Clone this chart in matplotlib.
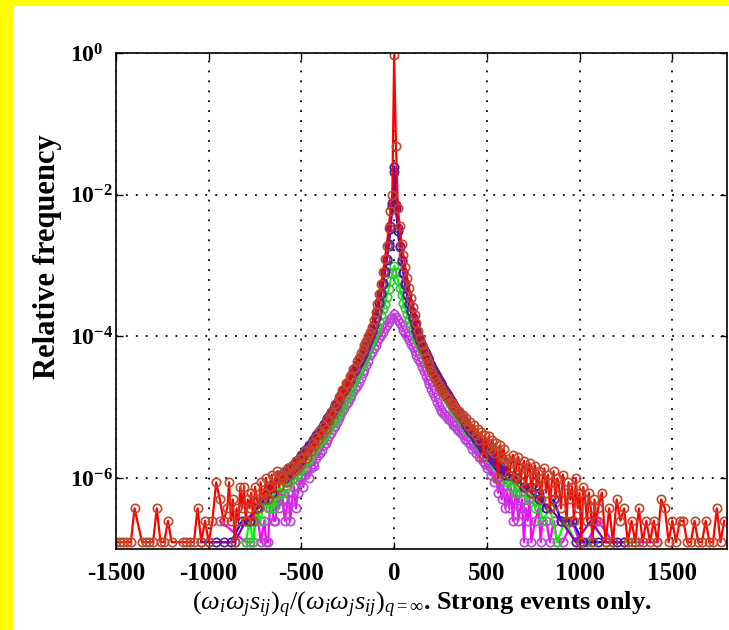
import matplotlib

matplotlib.use("Agg")

import matplotlib.pyplot as plt
from matplotlib.patches import Rectangle
from matplotlib.ticker import NullLocator

plt.rcParams["font.family"] = ["Liberation Serif", "DejaVu Serif"]
plt.rcParams["mathtext.fontset"] = "custom"
plt.rcParams["mathtext.rm"] = "Liberation Serif"
plt.rcParams["mathtext.it"] = "Liberation Serif:italic"
plt.rcParams["mathtext.bf"] = "Liberation Serif:bold"

# relative frequency of one event in the histograms
UNIT = 1.25e-7

# histogram bins in the core (-600 .. 600, width 10)
CORE_X = list(range(-600, 601, 10))

RED_CORE = [
    1.0e-6, 1.25e-6, 8.75e-7, 1.4e-6, 1.1e-6, 1.5e-6, 1.25e-6, 1.75e-6, 1.4e-6, 1.9e-6,
    1.6e-6, 2.0e-6, 2.4e-6, 1.9e-6, 2.6e-6, 2.4e-6, 3.1e-6, 2.8e-6, 3.8e-6, 3.4e-6,
    4.6e-6, 4.2e-6, 5.5e-6, 5.0e-6, 6.9e-6, 6.4e-6, 8.6e-6, 8.0e-6, 1.1e-5, 1.0e-5,
    1.4e-5, 1.3e-5, 1.75e-5, 1.65e-5, 2.2e-5, 2.1e-5, 2.8e-5, 2.7e-5, 3.5e-5, 3.6e-5,
    4.5e-5, 4.9e-5, 5.8e-5, 6.4e-5, 7.6e-5, 8.6e-5, 1.0e-4, 1.15e-4, 1.35e-4, 1.7e-4,
    2.2e-4, 2.9e-4, 4.0e-4, 5.5e-4, 8.0e-4, 1.25e-3, 1.9e-3, 3.4e-3, 5.8e-3, 1.0e-2,
    0.93,
    4.8e-2, 6.5e-3, 3.6e-3, 2.0e-3, 1.4e-3, 9.5e-4, 6.6e-4, 4.8e-4, 3.5e-4, 2.6e-4,
    2.0e-4, 1.55e-4, 1.2e-4, 9.5e-5, 7.6e-5, 6.2e-5, 5.2e-5, 4.4e-5, 3.8e-5, 3.3e-5,
    2.9e-5, 2.55e-5, 2.3e-5, 2.05e-5, 1.9e-5, 1.7e-5, 1.6e-5, 1.4e-5, 1.35e-5, 1.2e-5,
    1.15e-5, 1.0e-5, 9.8e-6, 8.6e-6, 8.9e-6, 7.4e-6, 7.9e-6, 6.4e-6, 7.0e-6, 5.5e-6,
    6.2e-6, 4.6e-6, 5.6e-6, 4.0e-6, 5.0e-6, 3.5e-6, 4.5e-6, 2.0e-6, 4.1e-6, 2.75e-6,
    3.9e-6, 2.5e-6, 3.5e-6, 2.25e-6, 3.1e-6, 1.0e-6, 2.9e-6, 1.9e-6, 2.6e-6, 1.75e-6,
]
MAGENTA_CORE = [
    5.0e-7, 2.5e-7, 3.75e-7, 6.25e-7, 2.5e-7, 5.0e-7, 7.5e-7, 3.75e-7, 6.25e-7, 8.75e-7,
    1.0e-6, 7.5e-7, 1.1e-6, 1.25e-6, 1.0e-6, 1.4e-6, 1.6e-6, 1.5e-6, 1.9e-6, 2.1e-6,
    2.25e-6, 2.5e-6, 2.9e-6, 3.1e-6, 3.5e-6, 3.9e-6, 4.3e-6, 5.0e-6, 5.5e-6, 6.2e-6,
    7.0e-6, 7.8e-6, 8.9e-6, 9.7e-6, 1.1e-5, 1.2e-5, 1.35e-5, 1.5e-5, 1.7e-5, 1.85e-5,
    2.0e-5, 2.3e-5, 2.6e-5, 3.0e-5, 3.4e-5, 3.9e-5, 4.5e-5, 5.4e-5, 6.0e-5, 6.9e-5,
    7.6e-5, 8.5e-5, 9.6e-5, 1.05e-4, 1.15e-4, 1.3e-4, 1.45e-4, 1.6e-4, 1.75e-4, 1.9e-4,
    2.05e-4,
    1.85e-4, 1.7e-4, 1.55e-4, 1.4e-4, 1.25e-4, 1.12e-4, 1.0e-4, 9.0e-5, 7.9e-5, 7.1e-5,
    6.3e-5, 5.5e-5, 4.8e-5, 4.3e-5, 3.7e-5, 3.2e-5, 2.8e-5, 2.4e-5, 2.1e-5, 1.8e-5,
    1.6e-5, 1.4e-5, 1.2e-5, 1.05e-5, 9.3e-6, 8.6e-6, 8.0e-6, 7.5e-6, 6.9e-6, 6.6e-6,
    6.1e-6, 5.6e-6, 5.4e-6, 4.9e-6, 4.6e-6, 4.3e-6, 4.0e-6, 3.6e-6, 3.5e-6, 3.2e-6,
    3.0e-6, 2.6e-6, 2.75e-6, 2.25e-6, 2.4e-6, 2.0e-6, 1.9e-6, 1.75e-6, 1.6e-6, 1.4e-6,
    1.5e-6, 1.1e-6, 1.25e-6, 8.75e-7, 1.0e-6, 6.25e-7, 8.75e-7, 5.0e-7, 7.5e-7, 3.75e-7,
]
GREEN_CORE = [
    6.25e-7, 8.75e-7, 7.5e-7, 1.0e-6, 8.75e-7, 1.1e-6, 1.0e-6, 1.25e-6, 1.1e-6, 1.4e-6,
    1.5e-6, 1.4e-6, 1.75e-6, 1.9e-6, 1.8e-6, 2.1e-6, 2.4e-6, 2.5e-6, 2.8e-6, 3.0e-6,
    3.3e-6, 3.6e-6, 3.9e-6, 4.3e-6, 4.7e-6, 5.1e-6, 5.6e-6, 6.2e-6, 6.9e-6, 7.6e-6,
    8.5e-6, 9.5e-6, 1.06e-5, 1.2e-5, 1.35e-5, 1.5e-5, 1.7e-5, 1.9e-5, 2.2e-5, 2.5e-5,
    2.8e-5, 3.2e-5, 3.7e-5, 4.2e-5, 4.9e-5, 5.7e-5, 6.6e-5, 7.7e-5, 9.0e-5, 1.05e-4,
    1.2e-4, 1.4e-4, 1.65e-4, 2.0e-4, 2.4e-4, 2.9e-4, 3.6e-4, 4.6e-4, 6.0e-4, 7.8e-4,
    1.0e-3,
    8.0e-4, 6.2e-4, 4.8e-4, 3.8e-4, 3.0e-4, 2.5e-4, 2.1e-4, 1.75e-4, 1.5e-4, 1.3e-4,
    1.12e-4, 9.6e-5, 8.3e-5, 7.3e-5, 6.4e-5, 5.6e-5, 4.9e-5, 4.3e-5, 3.8e-5, 3.4e-5,
    3.0e-5, 2.7e-5, 2.4e-5, 2.15e-5, 1.9e-5, 1.7e-5, 1.55e-5, 1.4e-5, 1.25e-5, 1.1e-5,
    1.05e-5, 9.2e-6, 8.8e-6, 7.8e-6, 7.6e-6, 6.6e-6, 6.5e-6, 5.6e-6, 5.5e-6, 4.7e-6,
    4.8e-6, 4.0e-6, 4.1e-6, 3.4e-6, 3.6e-6, 2.9e-6, 3.1e-6, 2.5e-6, 2.75e-6, 2.1e-6,
    2.4e-6, 1.9e-6, 2.0e-6, 1.6e-6, 1.75e-6, 1.4e-6, 1.5e-6, 1.25e-6, 1.25e-6, 1.0e-6,
]
BLUE_CORE = [
    1.0e-6, 1.25e-6, 1.1e-6, 1.4e-6, 1.25e-6, 1.5e-6, 1.4e-6, 1.75e-6, 1.6e-6, 1.9e-6,
    2.0e-6, 2.1e-6, 2.4e-6, 2.5e-6, 2.8e-6, 3.0e-6, 3.3e-6, 3.6e-6, 3.9e-6, 4.3e-6,
    4.7e-6, 5.1e-6, 5.7e-6, 6.2e-6, 6.9e-6, 7.6e-6, 8.4e-6, 9.3e-6, 1.03e-5, 1.15e-5,
    1.28e-5, 1.42e-5, 1.58e-5, 1.76e-5, 1.96e-5, 2.2e-5, 2.45e-5, 2.75e-5, 3.1e-5, 3.5e-5,
    3.9e-5, 4.4e-5, 5.0e-5, 5.7e-5, 6.5e-5, 7.5e-5, 8.7e-5, 1.02e-4, 1.2e-4, 1.45e-4,
    1.8e-4, 2.3e-4, 3.0e-4, 4.0e-4, 5.5e-4, 8.0e-4, 1.2e-3, 1.9e-3, 3.3e-3, 7.0e-3,
    2.5e-2,
    6.5e-3, 3.1e-3, 1.8e-3, 1.15e-3, 7.8e-4, 5.4e-4, 3.9e-4, 2.9e-4, 2.25e-4, 1.8e-4,
    1.45e-4, 1.2e-4, 1.0e-4, 8.6e-5, 7.4e-5, 6.4e-5, 5.6e-5, 4.9e-5, 4.3e-5, 3.8e-5,
    3.4e-5, 3.0e-5, 2.7e-5, 2.4e-5, 2.15e-5, 1.95e-5, 1.75e-5, 1.6e-5, 1.45e-5, 1.3e-5,
    1.2e-5, 1.1e-5, 1.0e-5, 9.0e-6, 8.2e-6, 7.4e-6, 6.8e-6, 6.2e-6, 5.6e-6, 5.1e-6,
    4.7e-6, 4.3e-6, 4.0e-6, 3.6e-6, 3.4e-6, 3.1e-6, 2.9e-6, 2.6e-6, 2.5e-6, 2.3e-6,
    2.2e-6, 2.0e-6, 1.9e-6, 1.75e-6, 1.65e-6, 1.5e-6, 1.4e-6, 1.3e-6, 1.25e-6, 1.1e-6,
]
PURPLE_CORE = [
    1.1e-6, 1.0e-6, 1.25e-6, 1.2e-6, 1.4e-6, 1.35e-6, 1.6e-6, 1.5e-6, 1.8e-6, 1.75e-6,
    2.1e-6, 2.0e-6, 2.5e-6, 2.4e-6, 2.9e-6, 2.8e-6, 3.4e-6, 3.4e-6, 4.0e-6, 4.1e-6,
    4.8e-6, 4.9e-6, 5.8e-6, 6.0e-6, 7.0e-6, 7.3e-6, 8.6e-6, 9.0e-6, 1.05e-5, 1.1e-5,
    1.3e-5, 1.38e-5, 1.6e-5, 1.72e-5, 2.0e-5, 2.15e-5, 2.5e-5, 2.7e-5, 3.15e-5, 3.4e-5,
    4.0e-5, 4.3e-5, 5.1e-5, 5.6e-5, 6.6e-5, 7.4e-5, 8.9e-5, 1.0e-4, 1.22e-4, 1.45e-4,
    1.85e-4, 2.3e-4, 3.1e-4, 4.1e-4, 5.7e-4, 8.3e-4, 1.25e-3, 2.0e-3, 3.6e-3, 7.6e-3,
    2.1e-2,
    7.2e-3, 3.4e-3, 1.9e-3, 1.2e-3, 8.2e-4, 5.6e-4, 4.0e-4, 3.0e-4, 2.3e-4, 1.85e-4,
    1.5e-4, 1.22e-4, 1.03e-4, 8.7e-5, 7.6e-5, 6.5e-5, 5.8e-5, 5.0e-5, 4.4e-5, 3.9e-5,
    3.5e-5, 3.05e-5, 2.8e-5, 2.45e-5, 2.2e-5, 2.0e-5, 1.8e-5, 1.62e-5, 1.48e-5, 1.33e-5,
    1.2e-5, 1.08e-5, 9.8e-6, 8.9e-6, 8.1e-6, 7.5e-6, 6.8e-6, 6.3e-6, 5.7e-6, 5.3e-6,
    4.8e-6, 4.5e-6, 4.1e-6, 3.8e-6, 3.4e-6, 3.2e-6, 2.9e-6, 2.75e-6, 2.5e-6, 2.4e-6,
    2.2e-6, 2.1e-6, 1.9e-6, 1.8e-6, 1.65e-6, 1.6e-6, 1.5e-6, 1.4e-6, 1.25e-6, 1.25e-6,
]

# tails: bin centre and number of events (empty bins left out)
RED_LEFT_X = [-1500, -1480, -1460, -1440, -1420, -1400, -1360, -1340, -1320, -1300,
              -1280, -1260, -1240, -1220, -1200, -1140, -1120, -1100, -1080, -1060,
              -1040, -1020, -1000, -980, -960, -940, -920] + list(range(-900, -609, 10))
RED_LEFT_N = [1, 1, 1, 1, 1, 3, 1, 1, 1, 1,
              3, 1, 1, 2, 1, 1, 1, 1, 1, 3,
              1, 2, 1, 2, 7, 4, 2,
              3, 7, 2, 4, 1, 3, 2, 6, 3, 6,
              2, 4, 3, 5, 2, 6, 4, 3, 7, 4,
              5, 8, 4, 6, 9, 5, 8, 10, 6, 9]
RED_RIGHT_X = list(range(610, 1101, 10)) + list(range(1120, 1781, 20))
RED_RIGHT_N = [15, 9, 13, 17, 8, 12, 16, 7, 11, 14,
               6, 10, 13, 5, 9, 12, 6, 10, 4, 8,
               11, 5, 9, 3, 7, 10, 4, 8, 6, 3,
               9, 5, 2, 7, 4, 6, 2, 8, 3, 5,
               1, 6, 4, 2, 5, 3, 1, 4, 2, 3,
               5, 1, 3, 1, 4, 2, 3, 1, 2, 1,
               3, 1, 2, 1, 2, 1, 4, 3, 1, 2,
               1, 2, 2, 1, 1, 2, 1, 1, 2, 1,
               1, 3, 1, 2]

MAGENTA_LEFT_X = [-940, -800, -780, -760, -750, -740, -720, -700, -690, -680, -670, -660,
                  -650, -640, -630, -620, -610]
MAGENTA_LEFT_N = [2, 1, 1, 1, 2, 3, 1, 2, 1, 1, 3, 4, 2, 2, 4, 3, 5]
MAGENTA_RIGHT_X = [610, 620, 630, 640, 650, 660, 670, 680, 690, 700, 710, 720, 730, 740,
                   760, 780, 790, 800, 820, 840, 860, 880, 910, 960, 1000, 1040, 1100,
                   1180, 1240, 1300, 1320, 1420]
MAGENTA_RIGHT_N = [5, 3, 6, 2, 4, 5, 2, 3, 4, 1, 3, 2, 4, 1,
                   2, 3, 1, 2, 2, 1, 2, 1, 1, 2, 1, 1, 2,
                   1, 1, 1, 1, 1]

GREEN_LEFT_X = [-800, -780, -760, -740, -720, -700, -680, -670, -660, -650, -640, -630, -620, -610]
GREEN_LEFT_N = [1, 2, 1, 3, 2, 4, 3, 5, 4, 3, 6, 4, 6, 5]
GREEN_RIGHT_X = [610, 620, 630, 640, 650, 660, 670, 680, 700, 720, 740, 760, 780, 800, 840,
                 880, 920, 980, 1060, 1180, 1280]
GREEN_RIGHT_N = [7, 9, 6, 8, 5, 9, 6, 5, 6, 4, 5, 3, 4, 2, 3, 1, 2, 1, 1, 1, 1]

BLUE_LEFT_X = [-1040, -960, -880, -820, -780, -740, -700, -660, -620]
BLUE_LEFT_N = [1, 1, 1, 2, 2, 3, 4, 5, 8]
BLUE_RIGHT_X = [620, 660, 700, 740, 780, 820, 860, 900, 960, 1020, 1100, 1200]
BLUE_RIGHT_N = [9, 8, 6, 6, 5, 3, 4, 2, 2, 1, 1, 1]

PURPLE_LEFT_X = [-1000, -920, -860, -800, -740, -700, -660, -620]
PURPLE_LEFT_N = [1, 1, 1, 2, 3, 5, 6, 9]
PURPLE_RIGHT_X = [620, 660, 700, 740, 780, 840, 900, 980, 1060, 1140, 1240]
PURPLE_RIGHT_N = [9, 8, 6, 5, 4, 3, 2, 1, 2, 1, 1]

X_TICKS = [-1500, -1000, -500, 0, 500, 1000, 1500]
Y_TICKS = [1e-6, 1e-4, 1e-2, 1e0]
Y_TICK_LABELS = [r"$\mathbf{10^{-6}}$", r"$\mathbf{10^{-4}}$", r"$\mathbf{10^{-2}}$", r"$\mathbf{10^{0}}$"]


def series(left_x, left_n, core, right_x, right_n):
    assert len(core) == len(CORE_X)
    assert len(left_x) == len(left_n) and len(right_x) == len(right_n)
    xs = list(left_x) + CORE_X + list(right_x)
    ys = [n * UNIT for n in left_n] + list(core) + [n * UNIT for n in right_n]
    return xs, ys


def main() -> None:
    fig = plt.figure(figsize=(7.29, 6.30), dpi=100)
    fig.patch.set_facecolor("#ffff00")
    fig.add_artist(Rectangle((13 / 729, 0), 1, 1 - 6 / 630, transform=fig.transFigure,
                             facecolor="white", edgecolor="none", zorder=-5))
    ax = fig.add_axes([116 / 729, 1 - 549 / 630, 611 / 729, 496 / 630])

    runs = [
        (MAGENTA_LEFT_X, MAGENTA_LEFT_N, MAGENTA_CORE, MAGENTA_RIGHT_X, MAGENTA_RIGHT_N, "#ff00ff", "#b844d8"),
        (GREEN_LEFT_X, GREEN_LEFT_N, GREEN_CORE, GREEN_RIGHT_X, GREEN_RIGHT_N, "#00ff00", "#30c830"),
        (BLUE_LEFT_X, BLUE_LEFT_N, BLUE_CORE, BLUE_RIGHT_X, BLUE_RIGHT_N, "#0000ff", "#1a1ab4"),
        (PURPLE_LEFT_X, PURPLE_LEFT_N, PURPLE_CORE, PURPLE_RIGHT_X, PURPLE_RIGHT_N, "#8000a0", "#6a1a8a"),
        (RED_LEFT_X, RED_LEFT_N, RED_CORE, RED_RIGHT_X, RED_RIGHT_N, "#ff0000", "#c0482a"),
    ]
    for lx, ln, core, rx, rn, line_c, mark_c in runs:
        xs, ys = series(lx, ln, core, rx, rn)
        ax.semilogy(xs, ys, "-", color=line_c, lw=1.6, marker="o", ms=6, mew=1.2,
                    mfc="none", mec=mark_c)

    ax.set_xlim(-1500, 1795)
    ax.set_ylim(1e-7, 1e0)
    ax.set_xticks(X_TICKS)
    ax.set_xticklabels([str(v) for v in X_TICKS])
    ax.set_yticks(Y_TICKS)
    ax.set_yticklabels(Y_TICK_LABELS)
    ax.yaxis.set_minor_locator(NullLocator())
    ax.tick_params(direction="in", length=5, width=1, top=True, right=True)
    ax.tick_params(axis="x", labelsize=18, pad=9)
    ax.tick_params(axis="y", labelsize=17, pad=33)
    for lab in ax.get_xticklabels():
        lab.set_fontweight("bold")
    for lab in ax.get_yticklabels():
        lab.set_horizontalalignment("left")
    ax.grid(True, color="black", linestyle=(0, (1, 4.5)), linewidth=1.3)
    for s in ax.spines.values():
        s.set_linewidth(1.2)

    ax.set_ylabel("Relative frequency", fontsize=22, fontweight="bold")
    ax.yaxis.set_label_coords(-0.088, 0.589)
    ax.set_xlabel(r"$(\omega_i\omega_j s_{ij})_q/(\omega_i\omega_j s_{ij})_{q=\infty}$. Strong events only.",
                  fontsize=19, fontweight="bold", labelpad=4)

    fig.savefig("out.png", dpi=100, facecolor=fig.get_facecolor())


if __name__ == "__main__":
    main()
